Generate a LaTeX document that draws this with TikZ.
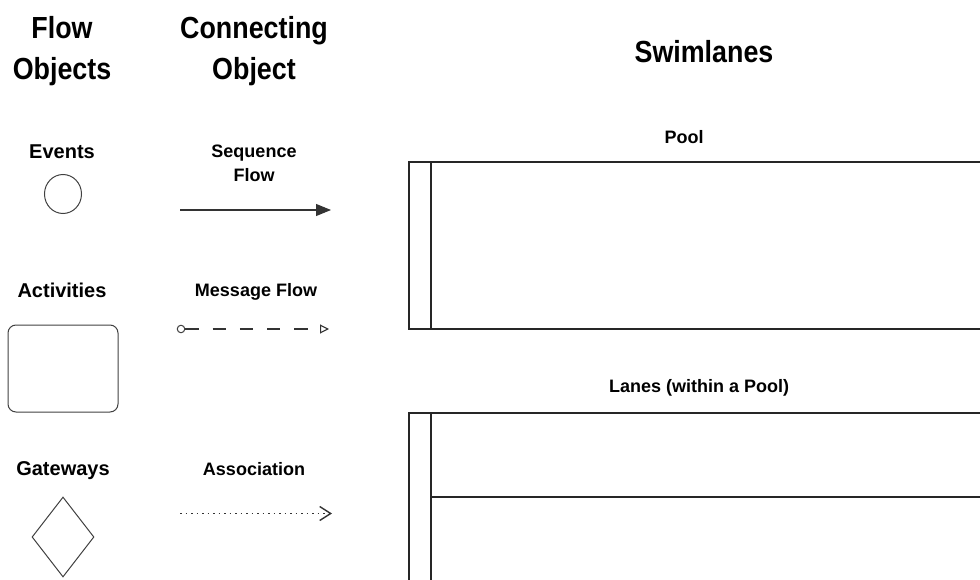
\documentclass[tikz,border=0pt]{standalone}
\usepackage{fontspec}
\setmainfont{Liberation Sans}
\newfontfamily\headfont{Liberation Sans}[FakeStretch=0.88]
\usetikzlibrary{arrows.meta,shapes.geometric}

\begin{document}
\begin{tikzpicture}[x=1pt,y=-1pt,
  head/.style={font=\headfont\bfseries\fontsize{30.5}{41}\selectfont, align=center, inner sep=0, anchor=base},
  lbl/.style={font=\bfseries\fontsize{18}{24}\selectfont, align=center, inner sep=0, anchor=base},
  objlbl/.style={lbl, font=\bfseries\fontsize{20}{24}\selectfont},
  symbol/.style={draw=black!75, line width=1pt, inner sep=0},
  link/.style={draw=black!80, line width=1.1pt},
  lane/.style={draw=black!85, line width=1.3pt}]

\useasboundingbox (0,0) rectangle (980,580);
\clip (0,0) rectangle (980,580);

% column headings (base anchor sits on the last line)
\node[head] (flowhead) at (62,80) {Flow\\Objects};
\node[head] (connhead) at (254,80) {Connecting\\Object};
\node[head] (swimhead) at (704,63) {Swimlanes};

% flow objects
\node[objlbl] (eventlbl) at (62,159) {Events};
\node[symbol, ellipse, minimum width=37pt, minimum height=39pt] (event) at (63,194) {};

\node[objlbl] (actlbl) at (62,297) {Activities};
\node[symbol, rectangle, rounded corners=8pt, minimum width=110pt, minimum height=87pt] (activity) at (63,368.5) {};

\node[objlbl] (gatelbl) at (63,475) {Gateways};
\node[symbol, diamond, minimum width=62pt, minimum height=80pt] (gateway) at (63,537) {};

% connecting objects
\node[lbl] (seqlbl) at (254,182) {Sequence\\Flow};
\coordinate (seqA) at (180,210);
\coordinate (seqB) at (331,210);
\draw[link, -{Triangle[length=15pt,width=12pt]}] (seqA) -- (seqB);

\node[lbl] (msglbl) at (256,296) {Message Flow};
\node[symbol, circle, minimum size=7.5pt] (msgA) at (181,329) {};
\coordinate (msgB) at (329,329);
\draw[link, dash pattern=on 13.3pt off 14pt, -{Triangle[open,length=9pt,width=9pt]}] (msgA) -- (msgB);

\node[lbl] (asslbl) at (254,475) {Association};
\coordinate (assA) at (180,513.5);
\coordinate (assB) at (332,513.5);
\draw[link, line width=1.6pt, dash pattern=on 1.6pt off 3.9pt, -{Straight Barb[length=11pt,width=14pt,line width=1.4pt]}] (assA) -- (assB);

% swimlanes: pool
\node[lbl] (poollbl) at (684,144) {Pool};
\draw[lane] (409,162) rectangle (995,329);
\draw[lane] (431,162) -- (431,329);

% swimlanes: lanes within a pool
\node[lbl] (laneslbl) at (699,392) {Lanes (within a Pool)};
\draw[lane] (409,413) rectangle (995,600);
\draw[lane] (431,413) -- (431,600);
\draw[lane] (431,497) -- (995,497);
\end{tikzpicture}
\end{document}
